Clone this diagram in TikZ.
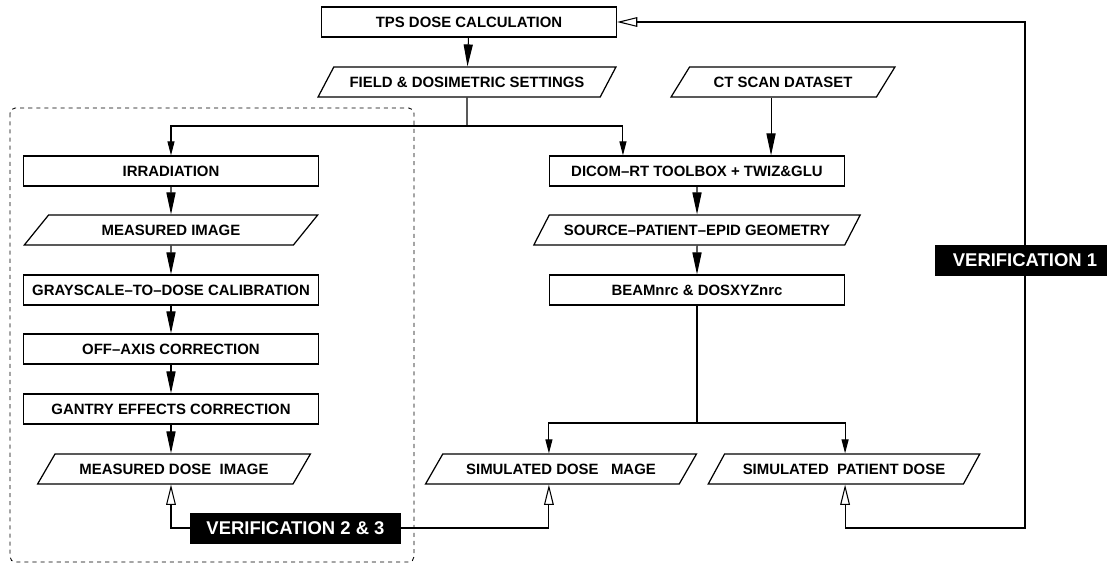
\documentclass[tikz,border=0pt]{standalone}
\usepackage{fontspec}
\setmainfont{Liberation Sans}
\usetikzlibrary{shapes.geometric,arrows.meta,calc}

\begin{document}
\begin{tikzpicture}[x=0.02cm, y=-0.02cm,
    box/.style={draw, line width=0.7pt, minimum width=5.9cm, minimum height=0.6cm, inner sep=1pt, font=\fontsize{8.5}{10}\selectfont\bfseries},
    para/.style={draw, line width=0.7pt, trapezium, trapezium left angle=45, trapezium right angle=135, trapezium stretches=true, minimum height=0.6cm, inner sep=1pt, font=\fontsize{8.5}{10}\selectfont\bfseries},
    verif/.style={fill=black, text=white, minimum height=0.62cm, inner sep=1pt, font=\fontsize{10.5}{12}\selectfont\bfseries},
    link/.style={line width=0.6pt},
    bigarrow/.style={link, -{Triangle[length=12.5pt,width=5.2pt]}},
    smallarrow/.style={link, -{Triangle[length=8pt,width=4pt]}},
    checkarrow/.style={link, -{Triangle[open,length=11.5pt,width=5.5pt]}}]
%    \draw[help lines] (0,0) grid[step=50] (1107,565);
    \useasboundingbox (0,0) rectangle (1107,565);
    \draw[line width=0.5pt, dash pattern=on 2.3pt off 2.3pt, rounded corners=3pt] (10,108) rectangle (414,562);
    \node[box] (tps) at (469,22) {TPS DOSE CALCULATION};
    \node[para, minimum width=5.96cm] (field) at (467,82) {FIELD \& DOSIMETRIC SETTINGS};
    \node[para, minimum width=4.48cm] (ct) at (783,82) {CT SCAN DATASET};
    \node[box] (irr) at (171,171) {IRRADIATION};
    \node[para, minimum width=5.88cm] (mimage) at (171,230) {MEASURED IMAGE};
    \node[box] (gray) at (171,290) {GRAYSCALE--TO--DOSE CALIBRATION};
    \node[box] (offaxis) at (171,349) {OFF--AXIS CORRECTION};
    \node[box] (gantry) at (171,409) {GANTRY EFFECTS CORRECTION};
    \node[para, minimum width=5.46cm] (mdose) at (174,469) {MEASURED DOSE\ \ IMAGE};
    \node[box] (dicom) at (697,171) {DICOM--RT TOOLBOX + TWIZ\&GLU};
    \node[para, minimum width=6.54cm] (geom) at (697,230) {SOURCE--PATIENT--EPID GEOMETRY};
    \node[box] (beam) at (697,290) {BEAMnrc \& DOSXYZnrc};
    \node[para, minimum width=5.42cm] (sdose) at (561,469) {SIMULATED DOSE\ \ \ MAGE};
    \node[para, minimum width=5.44cm] (pdose) at (844,469) {SIMULATED\ \ PATIENT DOSE};
    \node[verif, minimum width=4.22cm] (ver23) at (295.5,528) {VERIFICATION 2 \& 3};
    \node[verif, minimum width=3.6cm] (ver1) at (1025,260.5) {VERIFICATION 1};
    \coordinate (split) at (467,126);
    \coordinate (split2) at (697,423);
    \coordinate (dicomin1) at ($(dicom.north west)!0.25!(dicom.north east)$);
    \coordinate (dicomin2) at ($(dicom.north west)!0.75!(dicom.north east)$);
    \coordinate (corner) at (ver1 |- ver23);
    \draw[bigarrow] (tps) -- (field);
    \draw[link] (field) -- (split);
    \draw[smallarrow] (split) -| (irr.north);
    \draw[smallarrow] (split) -| (dicomin1);
    \draw[bigarrow] (ct.south -| dicomin2) -- (dicomin2);
    \draw[bigarrow] (irr) -- (mimage);
    \draw[bigarrow] (mimage) -- (gray);
    \draw[bigarrow] (gray) -- (offaxis);
    \draw[bigarrow] (offaxis) -- (gantry);
    \draw[bigarrow] (gantry) -- (gantry |- mdose.north);
    \draw[bigarrow] (dicom) -- (geom);
    \draw[bigarrow] (geom) -- (beam);
    \draw[link] (beam) -- (split2);
    \draw[smallarrow] (split2) -| (beam.west |- sdose.north);
    \draw[smallarrow] (split2) -| (beam.east |- pdose.north);
    \draw[checkarrow] (ver23.west) -| (gantry |- mdose.south);
    \draw[checkarrow] (ver23.east) -| (beam.west |- sdose.south);
    \draw[checkarrow] (ver1.north) |- (tps.east);
    \draw[checkarrow] (ver1.south) -- (corner) -| (beam.east |- pdose.south);
\end{tikzpicture}
\end{document}
